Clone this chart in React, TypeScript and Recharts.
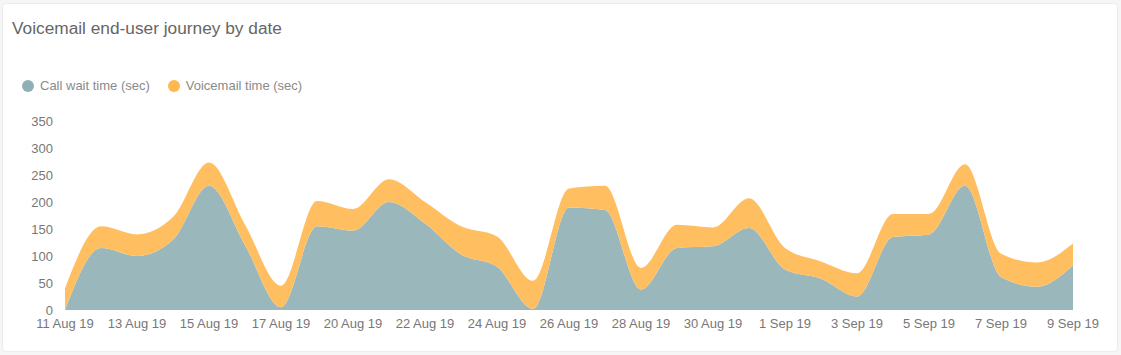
import React from "react";
import { AreaChart, Area, XAxis, YAxis } from "recharts";

const dates = [
    "11 Aug 19", "12 Aug 19", "13 Aug 19", "14 Aug 19", "15 Aug 19", "16 Aug 19",
    "17 Aug 19", "19 Aug 19", "20 Aug 19", "21 Aug 19", "22 Aug 19", "23 Aug 19",
    "24 Aug 19", "25 Aug 19", "26 Aug 19", "27 Aug 19", "28 Aug 19", "29 Aug 19",
    "30 Aug 19", "31 Aug 19", "1 Sep 19", "2 Sep 19", "3 Sep 19", "4 Sep 19",
    "5 Sep 19", "6 Sep 19", "7 Sep 19", "8 Sep 19", "9 Sep 19",
];

const callWait = [
    0, 115, 100, 130, 230, 120, 5, 155, 147, 200, 160, 103, 80, 2, 190, 185, 38,
    115, 118, 152, 75, 58, 25, 135, 140, 230, 61, 43, 83,
];

const voicemail = [
    40, 40, 40, 42, 43, 38, 40, 47, 40, 42, 40, 52, 56, 52, 35, 45, 40, 43, 35,
    55, 40, 32, 43, 43, 38, 40, 43, 45, 40,
];

const yTicks = [0, 50, 100, 150, 200, 250, 300, 350];

const BLUE = "#9ab7bc";
const ORANGE = "#ffbe5f";
const FONT = "'Liberation Sans', Arial, sans-serif";

const chartData = dates.map((d, i) => ({
    date: d,
    wait: callWait[i],
    voicemail: voicemail[i],
}));

const App = () => {
    return (
        <div
            style={{
                position: "fixed",
                left: 0,
                top: 0,
                width: 1121,
                height: 355,
                background: "#f6f6f6",
                fontFamily: FONT,
            }}
        >
            <div
                style={{
                    position: "absolute",
                    left: 2,
                    top: 3,
                    width: 1114,
                    height: 347,
                    background: "#fff",
                    border: "1px solid #ececec",
                    borderRadius: 4,
                }}
            />
            <div
                style={{
                    position: "absolute",
                    left: 12,
                    top: 18,
                    fontSize: 17.3,
                    color: "#666",
                }}
            >
                Voicemail end-user journey by date
            </div>
            {/* legend */}
            <div
                style={{
                    position: "absolute",
                    left: 22,
                    top: 78,
                    display: "flex",
                    alignItems: "center",
                    fontSize: 13,
                    color: "#8a8a8a",
                }}
            >
                <span
                    style={{
                        width: 12,
                        height: 12,
                        borderRadius: 6,
                        background: "#8fb0b5",
                        marginRight: 6,
                    }}
                />
                <span style={{ marginRight: 18 }}>Call wait time (sec)</span>
                <span
                    style={{
                        width: 12,
                        height: 12,
                        borderRadius: 6,
                        background: "#ffb84f",
                        marginRight: 6,
                    }}
                />
                <span>Voicemail time (sec)</span>
            </div>
            <div style={{ position: "absolute", left: 0, top: 0 }}>
                <AreaChart
                    width={1121}
                    height={355}
                    data={chartData}
                    margin={{ top: 121, right: 48, bottom: 15, left: 5 }}
                >
                    <XAxis
                        dataKey="date"
                        interval={1}
                        axisLine={false}
                        tickLine={false}
                        tickMargin={3}
                        tick={{ fontSize: 13, fill: "#777", fontFamily: FONT }}
                    />
                    <YAxis
                        width={60}
                        domain={[0, 350]}
                        ticks={yTicks}
                        axisLine={false}
                        tickLine={false}
                        tickMargin={6}
                        tick={{ fontSize: 13, fill: "#777", fontFamily: FONT }}
                    />
                    <Area
                        type="monotone"
                        dataKey="wait"
                        stackId="a"
                        stroke="none"
                        fill={BLUE}
                        fillOpacity={1}
                        isAnimationActive={false}
                    />
                    <Area
                        type="monotone"
                        dataKey="voicemail"
                        stackId="a"
                        stroke="none"
                        fill={ORANGE}
                        fillOpacity={1}
                        isAnimationActive={false}
                    />
                </AreaChart>
            </div>
        </div>
    );
};

export default App;
